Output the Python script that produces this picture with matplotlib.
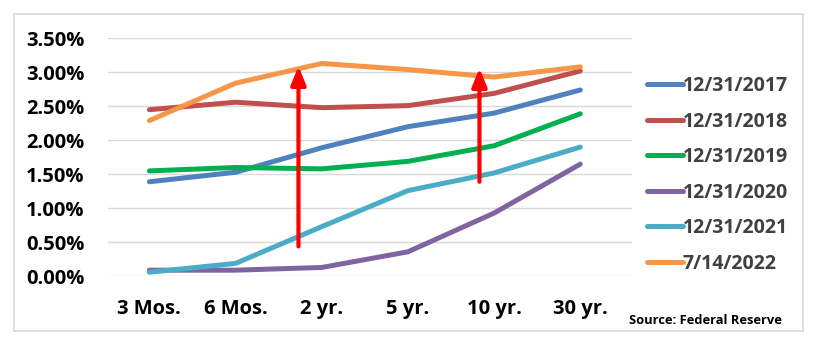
import matplotlib.pyplot as plt
from matplotlib.patches import Rectangle

# Données : rendements des bons du Trésor (%)
maturites = ['3 Mos.', '6 Mos.', '2 yr.', '5 yr.', '10 yr.', '30 yr.']
dates = ['12/31/2017', '12/31/2018', '12/31/2019', '12/31/2020', '12/31/2021', '7/14/2022']
taux_2017 = [1.39, 1.53, 1.89, 2.20, 2.40, 2.74]
taux_2018 = [2.45, 2.56, 2.48, 2.51, 2.69, 3.02]
taux_2019 = [1.55, 1.60, 1.58, 1.69, 1.92, 2.39]
taux_2020 = [0.09, 0.09, 0.13, 0.36, 0.93, 1.65]
taux_2021 = [0.06, 0.19, 0.73, 1.26, 1.52, 1.90]
taux_2022 = [2.29, 2.84, 3.13, 3.04, 2.93, 3.08]
couleurs = ['#4F81BD', '#C0504D', '#00B050', '#8064A2', '#4BACC6', '#F79646']

# Flèches rouges (position x, début, fin)
fleches_x = [1.73, 3.83]
fleches_debut = [0.44, 1.39]
fleches_fin = [3.09, 3.06]

W, H = 831, 345
fig = plt.figure(figsize=(W / 100, H / 100), dpi=100)
ax = fig.add_axes([108 / W, (H - 276.3) / H, (632 - 108) / W, (276.3 - 38.3) / H])

x = range(len(maturites))
series = [taux_2017, taux_2018, taux_2019, taux_2020, taux_2021, taux_2022]
for serie, nom, c in zip(series, dates, couleurs):
    ax.plot(x, serie, color=c, linewidth=3.6, label=nom,
            solid_capstyle='round', solid_joinstyle='round', clip_on=False)

for fx, d, f in zip(fleches_x, fleches_debut, fleches_fin):
    ax.annotate('', xy=(fx, f), xytext=(fx, d),
                arrowprops=dict(arrowstyle='-|>,head_length=1.1,head_width=0.45',
                                color='#FF0000', lw=3, shrinkA=0, shrinkB=0))

ax.set_xlim(-0.48, 5.6)
ax.set_ylim(0, 3.5)
ax.set_yticks([0, 0.5, 1, 1.5, 2, 2.5, 3, 3.5])
ax.set_yticklabels(['%.2f%%' % v for v in ax.get_yticks()])
ax.set_xticks(list(x))
ax.set_xticklabels(maturites)
ax.grid(True, axis='y', color='#D9D9D9', linewidth=1)
ax.set_axisbelow(True)
for s in ax.spines.values():
    s.set_visible(False)
ax.tick_params(length=0)
ax.tick_params(axis='y', pad=17)
ax.tick_params(axis='x', pad=16)
for t in ax.get_yticklabels() + ax.get_xticklabels():
    t.set_fontfamily('Open Sans')
    t.set_fontweight('bold')
    t.set_fontsize(14.5)

leg = ax.legend(loc='upper left', bbox_to_anchor=(647 / W, 1 - 76 / H),
                bbox_transform=fig.transFigure, frameon=False,
                prop={'family': 'Open Sans', 'weight': 'bold', 'size': 14},
                handlelength=1.85, handletextpad=0.0, labelspacing=0.8,
                borderpad=0, borderaxespad=0)
for t in leg.get_texts():
    t.set_color('#404040')

fig.text(782 / W, 1 - 320 / H, 'Source: Federal Reserve', ha='right', va='center',
         fontfamily='Open Sans', fontweight='bold', fontsize=9.3)

fig.patches.append(Rectangle((14 / W, 1 - 331 / H), (803 - 14) / W, (331 - 14) / H,
                             transform=fig.transFigure, fill=False,
                             edgecolor='#D9D9D9', linewidth=1.2))

fig.savefig('out.png', dpi=100)
